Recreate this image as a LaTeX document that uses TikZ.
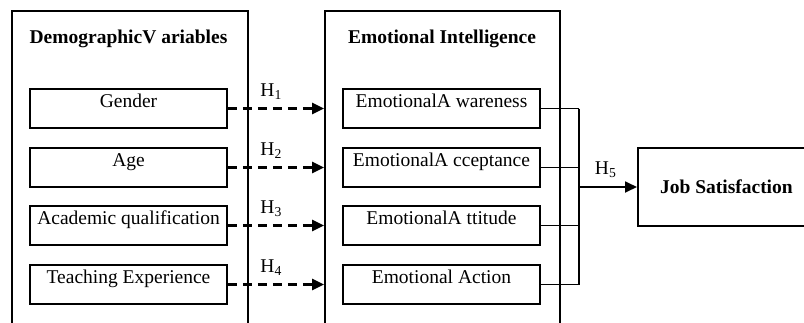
\documentclass[tikz,border=0pt]{standalone}
\usepackage{fontspec}
\setmainfont{Liberation Serif}
\newfontfamily\timesfont{Liberation Serif}
\usetikzlibrary{arrows.meta}

\begin{document}
\begin{tikzpicture}[x=1pt, y=-1pt, line width=1.8pt,
  font=\timesfont\fontsize{19.5}{23}\selectfont,
  frame/.style={draw, anchor=north west, minimum height=340pt, inner sep=0pt},
  varbox/.style={draw, minimum width=197pt, minimum height=39pt, inner sep=2pt, text height=15pt, text depth=18pt},
  hyp/.style={line width=2.6pt, dash pattern=on 9pt off 6pt, -{Triangle[length=12pt,width=11pt]}},
  hlab/.style={anchor=base, yshift=12.5pt, pos=0.45, inner sep=0pt}]
  \useasboundingbox (0,0) rectangle (804,322);
  \clip (0,0) rectangle (804,322);
  % outer frames
  \node[frame, minimum width=236pt] (demo) at (11,10) {};
  \node[frame, minimum width=235pt] (emo) at (324,10) {};
  \node[anchor=base] (demotitle) at (128.5,43) {\textbf{DemographicV ariables}};
  \node[anchor=base] (emotitle) at (442,43) {\textbf{Emotional Intelligence}};
  % demographic variables
  \node[varbox] (gender) at (128.5,108.5) {Gender};
  \node[varbox] (age) at (128.5,167.5) {Age};
  \node[varbox] (acad) at (128.5,225.5) {Academic qualification};
  \node[varbox] (teach) at (128.5,284.5) {Teaching Experience};
  % emotional intelligence
  \node[varbox] (aware) at (441.5,108.5) {EmotionalA wareness};
  \node[varbox] (accept) at (441.5,167.5) {EmotionalA cceptance};
  \node[varbox] (attit) at (441.5,225.5) {EmotionalA ttitude};
  \node[varbox] (action) at (441.5,284.5) {Emotional Action};
  % outcome
  \node[draw, anchor=west, minimum width=177pt, minimum height=78pt] (job) at (637,187) {\textbf{Job Satisfaction}};
  % hypotheses H1-H4
  \draw[hyp] (gender.east) -- (gender.east -| emo.west) node[hlab] (h1) {H\textsubscript{1}};
  \draw[hyp] (age.east) -- (age.east -| emo.west) node[hlab] (h2) {H\textsubscript{2}};
  \draw[hyp] (acad.east) -- (acad.east -| emo.west) node[hlab] (h3) {H\textsubscript{3}};
  \draw[hyp] (teach.east) -- (teach.east -| emo.west) node[hlab] (h4) {H\textsubscript{4}};
  % H5
  \draw (aware.east) -- ++(38,0) coordinate (b1);
  \draw (accept.east) -- ++(38,0) coordinate (b2);
  \draw (attit.east) -- ++(38,0) coordinate (b3);
  \draw (action.east) -- ++(38,0) coordinate (b4);
  \draw (b1) -- (b4);
  \draw[-{Triangle[length=12pt,width=11pt]}] (b1 |- job.west) -- (job.west) node[hlab, pos=0.46, yshift=0.5pt] (h5) {H\textsubscript{5}};
\end{tikzpicture}
\end{document}
